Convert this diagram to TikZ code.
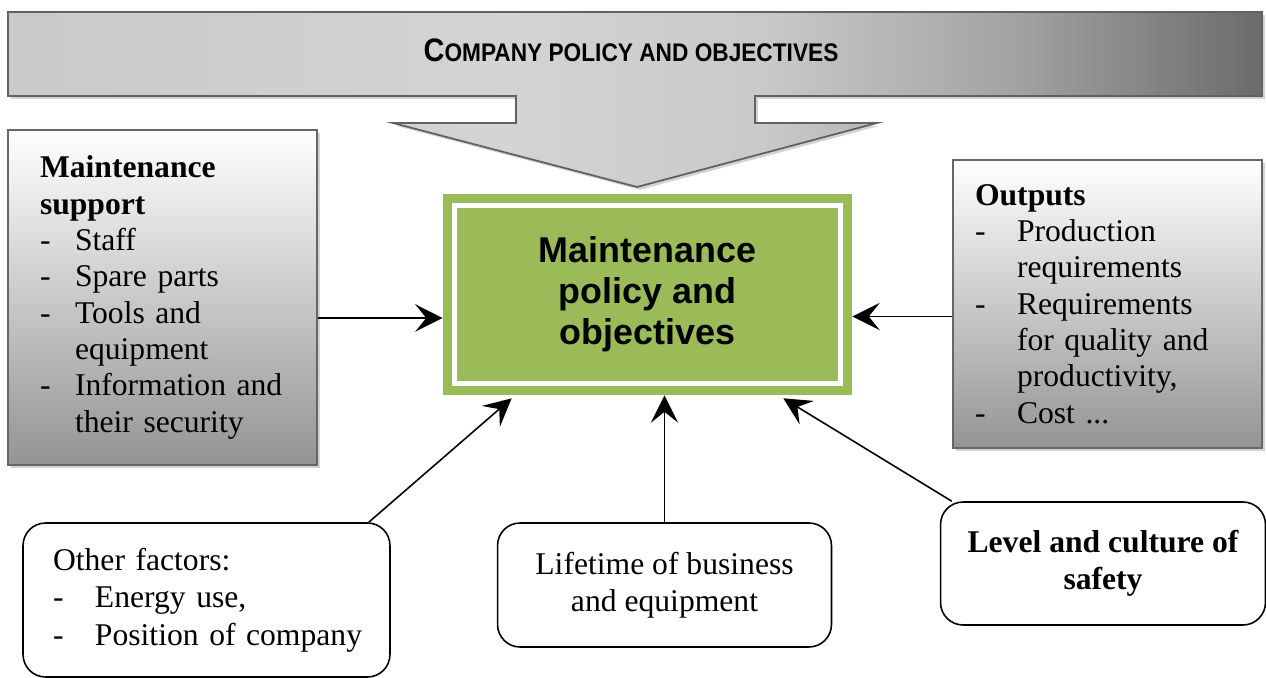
\documentclass[tikz,border=0pt]{standalone}
\usepackage{fontspec}
\setmainfont{Liberation Serif}
\setsansfont{Liberation Sans}
\newfontfamily\narrowfont[FakeStretch=0.89]{Liberation Sans}
\usetikzlibrary{arrows.meta,shadows}
\definecolor{polgreen}{HTML}{9BBB59}
\pgfdeclarehorizontalshading{bannershade}{100bp}{color(0bp)=(black!21); color(25bp)=(black!21);
  color(45bp)=(black!17); color(55bp)=(black!21); color(65bp)=(black!36); color(75bp)=(black!58);
  color(100bp)=(black!58)}
\newcommand\itm[2][0.84cm]{\makebox[#1][l]{-}#2}
\newcommand\cnt[2][0.84cm]{\hspace*{#1}#2}

\begin{document}
\begin{tikzpicture}[x=0.02cm,y=-0.02cm,
  txt/.style={font=\fontsize{18}{21.3}\selectfont},
  shad/.style={drop shadow={shadow xshift=1.6pt,shadow yshift=-1.6pt,opacity=.35}},
  sidebox/.style={shad,draw=black!60,line width=1pt,top color=white,bottom color=black!42,
    minimum width=6.18cm,align=left,font=\fontsize{18}{20.7}\selectfont},
  roundbox/.style={txt,draw,line width=.9pt,rounded corners=.45cm,fill=white},
  arr/.style={-{Stealth[length=.55cm,width=.55cm,inset=.22cm]},line width=.9pt}]

\useasboundingbox (0,0) rectangle (1266,678);

% banner with the big arrow
\shadedraw[shad,draw=black!62,line width=1pt,shading=bannershade]
  (8,12)--(1262,12)--(1262,96)--(755,96)--(755,123)--(877,123)--(637,187)
  --(393,123)--(516,123)--(516,96)--(8,96)--cycle;
\node[font=\narrowfont\bfseries\fontsize{14.5}{16}\selectfont] (cpo) at (631,50)
  {{\fontsize{18.5}{16}\selectfont C}OMPANY POLICY AND OBJECTIVES};

\node[fill=polgreen,minimum width=8.18cm,minimum height=4.02cm,align=center,
  font=\sffamily\bfseries\fontsize{20.4}{23.3}\selectfont] (main) at (647.5,294.5)
  {Maintenance\\policy and\\objectives};
\draw[white,line width=2.8pt] ([shift={(.23cm,-.23cm)}]main.north west)
  rectangle ([shift={(-.23cm,.23cm)}]main.south east);

\node[sidebox,inner xsep=.64cm,text width=4.9cm,minimum height=6.7cm] (lsup) at (162.5,297.5)
  {\textbf{Maintenance}\\\textbf{support}\\\itm[.7cm]{Staff}\\\itm[.7cm]{Spare parts}\\
   \itm[.7cm]{Tools and}\\\cnt[.7cm]{equipment}\\\itm[.7cm]{Information and}\\
   \cnt[.7cm]{their security}};
\node[sidebox,inner xsep=.44cm,text width=5.3cm,minimum height=5.76cm] (outp) at (1107.5,304)
  {\textbf{Outputs}\\\itm{Production}\\\cnt{requirements}\\\itm{Requirements}\\
   \cnt{for quality and}\\\cnt{productivity,}\\\itm{Cost ...}};

\node[roundbox,align=left,inner xsep=.6cm,text width=6.14cm,minimum height=3.08cm] (other) at (206.5,600)
  {Other factors:\\\itm{Energy use,}\\\itm{\mbox{Position of company}}};
\node[roundbox,align=center,minimum width=6.68cm,minimum height=2.48cm] (life) at (664.5,585)
  {Lifetime of business\\and equipment};
\node[roundbox,align=center,font=\fontsize{18}{21.3}\selectfont\bfseries,minimum width=6.5cm,
  minimum height=2.46cm] (level) at (1103,563.5)
  {Level and culture of\\safety};

\coordinate (mw) at ([yshift=-.47cm]main.west);
\coordinate (me) at ([yshift=-.44cm]main.east);
\draw[arr] (lsup.east |- mw) -- (mw);
\draw[arr] (outp.west |- me) -- (me);
\draw[arr] ([xshift=-.44cm]other.north east) -- ([xshift=1.38cm,yshift=-.06cm]main.south west);
\draw[arr] (life.north) -- (life.north |- main.south);
\draw[arr] ([xshift=.24cm]level.north west) -- ([xshift=-1.38cm,yshift=-.06cm]main.south east);

\end{tikzpicture}
\end{document}
